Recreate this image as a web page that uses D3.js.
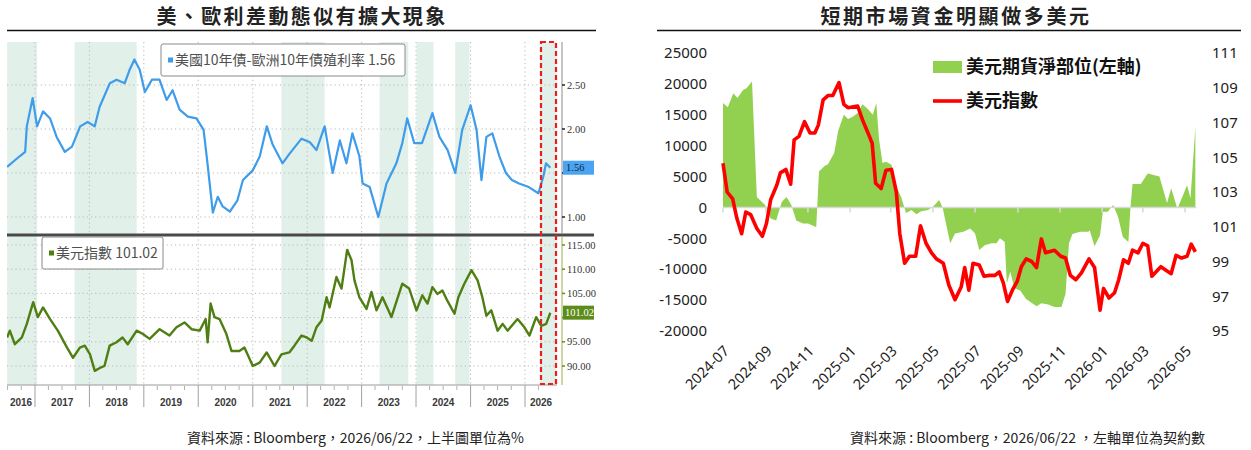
<!DOCTYPE html>
<html>
<head>
<meta charset="utf-8">
<script src="https://cdn.jsdelivr.net/npm/d3@7"></script>
<style>
  body { margin: 0; background: #fff; }
  svg { display: block; }
</style>
</head>
<body>
<svg id="chart" width="1251" height="450"></svg>
<script>
// ---------- left chart data ----------
const spreadDates = ['2016-06-28','2016-09-20','2016-10-27','2016-11-07','2016-12-16','2017-01-15','2017-02-24','2017-04-12','2017-05-26','2017-07-20','2017-09-06','2017-10-31','2017-12-20','2018-02-06','2018-03-10','2018-05-18','2018-07-02','2018-08-26','2018-09-27','2018-10-30','2018-12-05','2019-01-08','2019-02-24','2019-04-16','2019-06-03','2019-07-13','2019-08-29','2019-10-23','2019-12-20','2020-02-06','2020-03-03','2020-04-08','2020-05-11','2020-06-13','2020-07-31','2020-09-20','2020-10-27','2021-01-01','2021-02-17','2021-04-05','2021-05-15','2021-07-19','2021-09-05','2021-11-24','2022-01-19','2022-03-04','2022-04-28','2022-06-21','2022-08-08','2022-09-21','2022-10-31','2022-12-17','2023-01-08','2023-02-24','2023-04-23','2023-06-17','2023-08-22','2023-10-01','2023-11-03','2023-12-20','2024-02-10','2024-04-20','2024-06-06','2024-07-31','2024-09-20','2024-11-06','2025-01-01','2025-02-10','2025-03-15','2025-04-17','2025-05-27','2025-07-13','2025-08-26','2025-10-05','2025-11-22','2026-01-26','2026-04-01','2026-05-04','2026-05-22','2026-06-20']
const spreadValues = [1.57,1.69,1.74,2.03,2.35,2.03,2.20,2.12,1.91,1.74,1.80,2.03,2.08,2.03,2.25,2.52,2.56,2.52,2.67,2.79,2.67,2.42,2.56,2.56,2.33,2.44,2.22,2.14,2.12,1.99,1.61,1.05,1.23,1.12,1.06,1.19,1.42,1.53,1.69,2.03,1.82,1.61,1.72,1.89,1.85,1.76,2.03,1.50,1.87,1.61,1.95,1.69,1.38,1.34,1.00,1.38,1.61,1.84,2.12,1.84,1.84,2.18,1.91,1.76,1.50,1.99,2.27,1.99,1.42,1.91,1.95,1.69,1.50,1.42,1.38,1.34,1.27,1.46,1.61,1.56]

const dxyDates = ['2016-06-28','2016-07-16','2016-08-19','2016-10-05','2016-11-07','2016-12-20','2017-01-20','2017-02-24','2017-04-12','2017-06-03','2017-08-04','2017-09-13','2017-10-29','2017-12-01','2018-01-05','2018-02-06','2018-03-12','2018-04-12','2018-05-17','2018-07-02','2018-08-11','2018-09-15','2018-11-14','2018-12-26','2019-02-09','2019-04-17','2019-06-22','2019-08-08','2019-10-01','2019-11-17','2020-01-11','2020-02-20','2020-03-04','2020-03-24','2020-04-19','2020-05-23','2020-07-08','2020-08-11','2020-10-03','2020-11-06','2021-01-01','2021-02-16','2021-04-04','2021-05-27','2021-07-12','2021-09-03','2021-10-07','2021-11-24','2021-12-28','2022-01-31','2022-03-04','2022-04-08','2022-05-11','2022-05-31','2022-07-16','2022-08-19','2022-09-26','2022-10-25','2022-11-14','2022-12-17','2023-02-03','2023-03-08','2023-04-11','2023-05-21','2023-07-20','2023-08-29','2023-10-01','2023-11-16','2024-01-04','2024-02-12','2024-03-18','2024-04-20','2024-05-23','2024-06-26','2024-07-29','2024-09-15','2024-10-11','2024-11-20','2025-01-07','2025-02-17','2025-03-21','2025-04-17','2025-05-20','2025-07-01','2025-08-04','2025-09-06','2025-11-12','2025-12-28','2026-01-31','2026-03-17','2026-04-20','2026-05-23','2026-06-20']
const dxyValues = [95.9,97.3,94.5,95.9,98.7,103.2,100.1,102.1,99.7,97.3,93.8,91.7,93.8,94.2,92.4,89.0,89.6,90.0,94.2,94.9,95.9,94.5,97.3,96.6,95.6,97.6,96.3,98.0,99.0,97.6,97.3,99.7,94.9,102.9,100.1,99.7,96.6,93.1,93.1,93.8,90.0,90.7,92.8,90.0,92.4,92.8,94.2,96.3,95.9,95.2,98.0,99.4,104.2,102.1,108.4,106.0,114.0,111.9,107.7,104.2,101.8,105.3,101.5,104.2,100.1,103.9,107.0,106.0,101.5,104.6,102.9,106.3,104.9,105.6,103.5,100.8,104.2,107.0,109.8,107.7,104.2,100.4,101.5,97.3,98.7,97.3,99.7,98.0,96.3,100.1,98.3,98.7,101.0]

const bandStarts = ['2016-06-28','2017-09-24','2021-07-12','2023-05-01','2024-01-04','2024-09-20','2026-04-12']
const bandEnds   = ['2017-01-15','2018-11-14','2022-04-28','2023-11-10','2024-04-27','2024-12-25','2026-07-31']

const spreadTicks = [1.0, 1.5, 2.0, 2.5]
const dxyTicks = [90, 95, 100, 105, 110, 115]
const yearLabels = [2016,2017,2018,2019,2020,2021,2022,2023,2024,2025,2026]
const spreadLast = 1.56
const dxyLast = 101.02

// ---------- right chart data ----------
const netDates = ['2024-07-01','2024-07-08','2024-07-16','2024-07-22','2024-07-30','2024-08-04','2024-08-12','2024-08-19','2024-08-31','2024-09-02','2024-09-08','2024-09-16','2024-09-24','2024-10-01','2024-10-08','2024-10-15','2024-10-25','2024-11-01','2024-11-11','2024-11-13','2024-11-17','2024-11-25','2024-11-30','2024-12-09','2024-12-15','2024-12-23','2024-12-29','2025-01-05','2025-01-12','2025-01-19','2025-01-27','2025-02-03','2025-02-08','2025-02-12','2025-02-17','2025-02-22','2025-03-02','2025-03-09','2025-03-16','2025-03-23','2025-03-31','2025-04-07','2025-04-14','2025-04-24','2025-05-01','2025-05-10','2025-05-15','2025-05-21','2025-05-26','2025-06-02','2025-06-14','2025-06-24','2025-07-01','2025-07-07','2025-07-15','2025-07-25','2025-08-01','2025-08-06','2025-08-13','2025-08-16','2025-08-21','2025-08-27','2025-09-04','2025-09-13','2025-09-28','2025-10-05','2025-10-15','2025-10-24','2025-11-03','2025-11-09','2025-11-14','2025-11-19','2025-11-30','2025-12-12','2025-12-14','2025-12-21','2025-12-29','2026-01-02','2026-01-09','2026-01-17','2026-01-24','2026-01-31','2026-02-08','2026-02-11','2026-02-14','2026-02-26','2026-03-08','2026-03-25','2026-04-05','2026-04-11','2026-04-20','2026-05-04','2026-05-09','2026-05-16']
const netValues = [16900,16200,18500,17700,19000,19300,20400,1700,400,-200,-1800,-2100,900,1700,400,-2100,-2600,-2600,-3100,-3200,5800,6700,7000,8800,12500,15000,14300,14700,15300,16700,15900,15000,16900,11000,7200,7400,6900,3300,1700,-900,-400,-1100,-600,-400,100,1200,0,-3150,-5800,-4200,-3950,-3400,-4200,-6900,-6100,-5800,-5800,-5000,-5600,-12300,-10400,-13100,-13400,-14800,-16000,-15500,-15700,-16100,-16100,-14000,-5800,-4300,-3950,-3950,-3700,-6300,-4500,-700,-700,400,-1500,-4800,-5600,0,3800,3800,5500,5000,700,3100,-200,3600,1500,13000]

const idxDates = ['2024-07-01','2024-07-07','2024-07-15','2024-07-21','2024-07-28','2024-08-03','2024-08-10','2024-08-19','2024-08-27','2024-09-02','2024-09-08','2024-09-17','2024-09-22','2024-09-30','2024-10-07','2024-10-12','2024-10-19','2024-10-27','2024-11-04','2024-11-11','2024-11-16','2024-11-23','2024-11-30','2024-12-07','2024-12-16','2024-12-23','2024-12-29','2025-01-12','2025-01-19','2025-01-27','2025-02-02','2025-02-07','2025-02-15','2025-02-22','2025-03-02','2025-03-09','2025-03-14','2025-03-21','2025-03-28','2025-04-06','2025-04-13','2025-04-21','2025-04-29','2025-05-06','2025-05-16','2025-05-24','2025-06-02','2025-06-11','2025-06-16','2025-06-22','2025-06-28','2025-07-07','2025-07-14','2025-07-22','2025-07-30','2025-08-05','2025-08-11','2025-08-17','2025-08-24','2025-08-31','2025-09-06','2025-09-13','2025-09-21','2025-09-28','2025-10-05','2025-10-11','2025-10-24','2025-11-02','2025-11-09','2025-11-16','2025-11-24','2025-12-02','2025-12-13','2025-12-21','2025-12-29','2026-01-03','2026-01-11','2026-01-19','2026-01-25','2026-02-01','2026-02-08','2026-02-14','2026-02-22','2026-03-01','2026-03-08','2026-03-14','2026-03-27','2026-04-05','2026-04-11','2026-04-18','2026-04-26','2026-05-04','2026-05-10','2026-05-16']
const idxValues = [104.65,103.0,102.6,101.5,100.6,101.85,101.7,100.9,100.45,101.2,102.55,103.4,104.1,104.3,103.45,106.0,106.2,107.05,106.4,106.4,106.85,108.3,108.55,108.55,109.3,108.05,107.85,107.95,107.15,106.4,105.8,103.5,103.2,104.25,104.3,103.0,100.6,98.9,99.3,99.3,101.05,100.05,99.5,99.15,98.9,97.65,96.8,97.55,98.65,97.35,98.9,98.8,98.15,98.2,98.2,98.4,97.75,96.7,97.35,97.85,98.7,99.15,99.0,98.65,100.3,99.5,99.65,99.3,99.2,98.2,97.95,98.35,99.15,98.65,96.2,97.45,96.9,97.2,97.95,99.1,98.9,99.65,99.5,100.05,99.9,98.15,98.7,98.45,98.3,99.35,99.2,99.3,100.0,99.55]

const netTicks = [-20000,-15000,-10000,-5000,0,5000,10000,15000,20000,25000]
const idxTicks = [95,97,99,101,103,105,107,109,111]

const leftTitle = '美、歐利差動態似有擴大現象'
const rightTitle = '短期市場資金明顯做多美元'
const spreadName = '美國10年債-歐洲10年債殖利率'
const dxyName = '美元指數'
const netName = '美元期貨淨部位(左軸)'
const idxName = '美元指數'
const leftNote = '資料來源 : Bloomberg，2026/06/22，上半圖單位為%'
const rightNote = '資料來源 : Bloomberg，2026/06/22 ，左軸單位為契約數'

// ---------- drawing ----------
const parse = d3.timeParse('%Y-%m-%d')
const cjk = '"Noto Sans CJK TC", "Noto Sans", sans-serif'
const svg = d3.select('#chart')
const zip = (ds, vs) => ds.map((d, i) => ({ date: parse(d), value: vs[i] }))

// ===== left: Bloomberg style two-panel chart =====
const L = { left: 7, right: 557, top: 42, split: 235, bottom: 385, axis: 562 }
const xL = d3.scaleTime().domain([parse('2017-01-01'), parse('2026-01-01')]).range([35, 525])
const ySp = d3.scaleLinear().domain([1, 2.5]).range([217, 85])
const yDx = d3.scaleLinear().domain([90, 115]).range([366, 245])

svg.append('text').attr('x', 302).attr('y', 24).attr('text-anchor', 'middle')
  .attr('fill', '#222').style('font', `bold 20px ${cjk}`).style('letter-spacing', '2.4px').text(leftTitle)
svg.append('line').attr('x1', 7).attr('x2', 596).attr('y1', 30.5).attr('y2', 30.5)
  .attr('stroke', '#111').attr('stroke-width', 1.5)

svg.append('clipPath').attr('id', 'clipL').append('rect')
  .attr('x', L.left).attr('y', L.top).attr('width', L.right - L.left).attr('height', L.bottom - L.top)

const gl = svg.append('g')
const plot = gl.append('g').attr('clip-path', 'url(#clipL)')

// shaded periods
bandStarts.forEach((s, i) => {
  plot.append('rect')
    .attr('x', xL(parse(s))).attr('y', L.top)
    .attr('width', xL(parse(bandEnds[i])) - xL(parse(s))).attr('height', L.bottom - L.top)
    .attr('fill', '#e2f0ea')
})

// dotted grid
const dotted = sel => sel.attr('stroke', '#b9b9b9').attr('stroke-width', 1).attr('stroke-dasharray', '1.2,3')
spreadTicks.forEach(t => dotted(plot.append('line').attr('x1', L.left).attr('x2', L.right).attr('y1', ySp(t)).attr('y2', ySp(t))))
dxyTicks.forEach(t => dotted(plot.append('line').attr('x1', L.left).attr('x2', L.right).attr('y1', yDx(t)).attr('y2', yDx(t))))
const yearStarts = d3.timeYear.range(parse('2017-01-01'), parse('2026-06-01'))
yearStarts.forEach(d => dotted(plot.append('line').attr('x1', xL(d)).attr('x2', xL(d)).attr('y1', L.top).attr('y2', L.bottom)))

// series lines
const spread = zip(spreadDates, spreadValues)
const dxy = zip(dxyDates, dxyValues)
plot.append('path').datum(spread)
  .attr('d', d3.line().x(d => xL(d.date)).y(d => ySp(d.value)))
  .attr('fill', 'none').attr('stroke', '#3e9cea').attr('stroke-width', 2.2).attr('stroke-linejoin', 'round')
plot.append('path').datum(dxy)
  .attr('d', d3.line().x(d => xL(d.date)).y(d => yDx(d.value)))
  .attr('fill', 'none').attr('stroke', '#4f7f12').attr('stroke-width', 2.4).attr('stroke-linejoin', 'round')

// panel separator
gl.append('line').attr('x1', L.left).attr('x2', 594).attr('y1', L.split).attr('y2', L.split)
  .attr('stroke', '#4a4a4a').attr('stroke-width', 3)

// right axes (labels hidden behind the last-value tags are skipped, as in the source)
gl.append('line').attr('x1', L.axis).attr('x2', L.axis).attr('y1', L.top).attr('y2', L.split - 1.5)
  .attr('stroke', '#8c8c8c').attr('stroke-width', 1)
gl.append('line').attr('x1', L.axis).attr('x2', L.axis).attr('y1', L.split + 1.5).attr('y2', L.bottom)
  .attr('stroke', '#a9bd6a').attr('stroke-width', 1.2)
const tickFont = '10.5px "Liberation Serif", serif'
spreadTicks.forEach(t => {
  gl.append('line').attr('x1', L.axis).attr('x2', L.axis + 3).attr('y1', ySp(t)).attr('y2', ySp(t)).attr('stroke', '#222').attr('stroke-width', 1.5)
  if (Math.abs(ySp(t) - ySp(spreadLast)) < 12) return
  gl.append('text').attr('x', L.axis + 5).attr('y', ySp(t)).attr('dy', '0.35em')
    .attr('fill', '#333').style('font', tickFont).text(t.toFixed(2))
})
dxyTicks.forEach(t => {
  gl.append('line').attr('x1', L.axis).attr('x2', L.axis + 3).attr('y1', yDx(t)).attr('y2', yDx(t)).attr('stroke', '#6b8a22').attr('stroke-width', 1.5)
  if (Math.abs(yDx(t) - yDx(dxyLast)) < 12) return
  gl.append('text').attr('x', L.axis + 5).attr('y', yDx(t)).attr('dy', '0.35em')
    .attr('fill', '#333').style('font', tickFont).text(t.toFixed(2))
})

// last value tags
gl.append('rect').attr('x', 563).attr('y', ySp(spreadLast) - 7).attr('width', 31).attr('height', 14).attr('fill', '#4aa4f2')
gl.append('text').attr('x', 566).attr('y', ySp(spreadLast)).attr('dy', '0.35em')
  .attr('fill', '#14253d').style('font', tickFont).text(spreadLast.toFixed(2))
gl.append('rect').attr('x', 563).attr('y', yDx(dxyLast) - 7).attr('width', 31).attr('height', 14).attr('fill', '#5c8c1a')
gl.append('text').attr('x', 565).attr('y', yDx(dxyLast)).attr('dy', '0.35em')
  .attr('fill', '#fff').style('font', tickFont).text(dxyLast.toFixed(2))

// x axis: year dividers, quarter ticks, centred year labels
gl.append('line').attr('x1', L.left).attr('x2', L.right).attr('y1', L.bottom).attr('y2', L.bottom).attr('stroke', '#9a9a9a')
yearStarts.forEach(d => {
  gl.append('line').attr('x1', xL(d)).attr('x2', xL(d)).attr('y1', L.bottom).attr('y2', L.bottom + 22).attr('stroke', '#a0a0a0')
})
d3.timeMonth.every(3).range(parse('2016-07-01'), parse('2026-06-01')).forEach(d => {
  if (d.getMonth() === 0) return
  gl.append('line').attr('x1', xL(d)).attr('x2', xL(d)).attr('y1', L.bottom + 1).attr('y2', L.bottom + 5).attr('stroke', '#b0b0b0')
})
yearLabels.forEach(y => {
  const a = Math.max(xL(new Date(y, 0, 1)), L.left)
  const b = Math.min(xL(new Date(y + 1, 0, 1)), L.right)
  gl.append('text').attr('x', (a + b) / 2).attr('y', L.bottom + 21).attr('text-anchor', 'middle')
    .attr('fill', '#3a3a3a').style('font', 'bold 10px "Liberation Sans", sans-serif').text(y)
})

// legends
const legend = (x, y, w, h, color, label) => {
  gl.append('rect').attr('x', x).attr('y', y).attr('width', w).attr('height', h).attr('rx', 2)
    .attr('fill', '#fff').attr('stroke', '#8a8a8a').attr('stroke-width', 1)
  gl.append('rect').attr('x', x + 7).attr('y', y + h / 2 - 2.5).attr('width', 5).attr('height', 5).attr('fill', color)
  gl.append('text').attr('x', x + 14).attr('y', y + h / 2).attr('dy', '0.36em')
    .attr('fill', '#505050').style('font', `14px ${cjk}`).text(label)
}
legend(161, 44, 244, 32, '#3e9cea', `${spreadName} ${spreadLast.toFixed(2)}`)
legend(42, 237, 121, 32, '#4f7f12', `${dxyName} ${dxyLast.toFixed(2)}`)

// highlight box for the latest period
gl.append('rect').attr('x', 541).attr('y', L.top).attr('width', 15).attr('height', L.bottom - L.top - 1)
  .attr('fill', 'none').attr('stroke', '#ee1c1c').attr('stroke-width', 2.2).attr('stroke-dasharray', '5,3')

svg.append('text').attr('x', 187).attr('y', 443).attr('fill', '#222')
  .style('font', `14px ${cjk}`).text(leftNote)

// ===== right: futures net position vs dollar index =====
const xR = d3.scaleTime().domain([parse('2024-07-01'), parse('2026-05-01')]).range([723, 1185])
const yNet = d3.scaleLinear().domain([-20000, 25000]).range([331, 53])
const yIdx = d3.scaleLinear().domain([95, 111]).range([331, 53])
const gr = svg.append('g')

svg.append('text').attr('x', 956).attr('y', 24).attr('text-anchor', 'middle')
  .attr('fill', '#222').style('font', `bold 20px ${cjk}`).style('letter-spacing', '2.6px').text(rightTitle)
svg.append('line').attr('x1', 657).attr('x2', 1241).attr('y1', 30.5).attr('y2', 30.5)
  .attr('stroke', '#111').attr('stroke-width', 1.5)

const net = zip(netDates, netValues)
const idx = zip(idxDates, idxValues)

gr.append('path').datum(net)
  .attr('d', d3.area().x(d => xR(d.date)).y0(yNet(0)).y1(d => yNet(d.value)))
  .attr('fill', '#92d050')

// category axis sits on zero
const monthTicks = d3.timeMonth.every(2).range(parse('2024-07-01'), parse('2026-05-02'))
gr.append('line').attr('x1', 723).attr('x2', xR(net[net.length - 1].date) + 1).attr('y1', yNet(0)).attr('y2', yNet(0))
  .attr('stroke', '#d9d9d9').attr('stroke-width', 1.5)
monthTicks.forEach(d => {
  gr.append('line').attr('x1', xR(d)).attr('x2', xR(d)).attr('y1', yNet(0)).attr('y2', yNet(0) + 5)
    .attr('stroke', '#d9d9d9').attr('stroke-width', 1.5)
})

gr.append('path').datum(idx)
  .attr('d', d3.line().x(d => xR(d.date)).y(d => yIdx(d.value)))
  .attr('fill', 'none').attr('stroke', '#ff0000').attr('stroke-width', 3.6).attr('stroke-linejoin', 'round')

const axisFont = '15px "Noto Sans", sans-serif'
netTicks.forEach(t => {
  gr.append('text').attr('x', 707).attr('y', yNet(t)).attr('dy', '0.35em').attr('text-anchor', 'end')
    .attr('fill', '#222').style('font', axisFont).text(t)
})
idxTicks.forEach(t => {
  gr.append('text').attr('x', 1212).attr('y', yIdx(t)).attr('dy', '0.35em')
    .attr('fill', '#222').style('font', axisFont).text(t)
})
const fmtMonth = d3.timeFormat('%Y-%m')
monthTicks.forEach(d => {
  gr.append('text').attr('transform', `translate(${xR(d) + 7},${352}) rotate(-45)`)
    .attr('text-anchor', 'end').attr('fill', '#222').style('font', '14.5px "Noto Sans", sans-serif')
    .text(fmtMonth(d))
})

// legend
gr.append('rect').attr('x', 933).attr('y', 61).attr('width', 29).attr('height', 12).attr('fill', '#92d050')
gr.append('text').attr('x', 966).attr('y', 67).attr('dy', '0.36em').attr('fill', '#111')
  .style('font', `bold 18px ${cjk}`).text(netName)
gr.append('line').attr('x1', 933).attr('x2', 962).attr('y1', 101).attr('y2', 101)
  .attr('stroke', '#ff0000').attr('stroke-width', 3.6)
gr.append('text').attr('x', 966).attr('y', 101).attr('dy', '0.36em').attr('fill', '#111')
  .style('font', `bold 18px ${cjk}`).text(idxName)

svg.append('text').attr('x', 850).attr('y', 443).attr('fill', '#222')
  .style('font', `14px ${cjk}`).text(rightNote)
</script>
</body>
</html>
